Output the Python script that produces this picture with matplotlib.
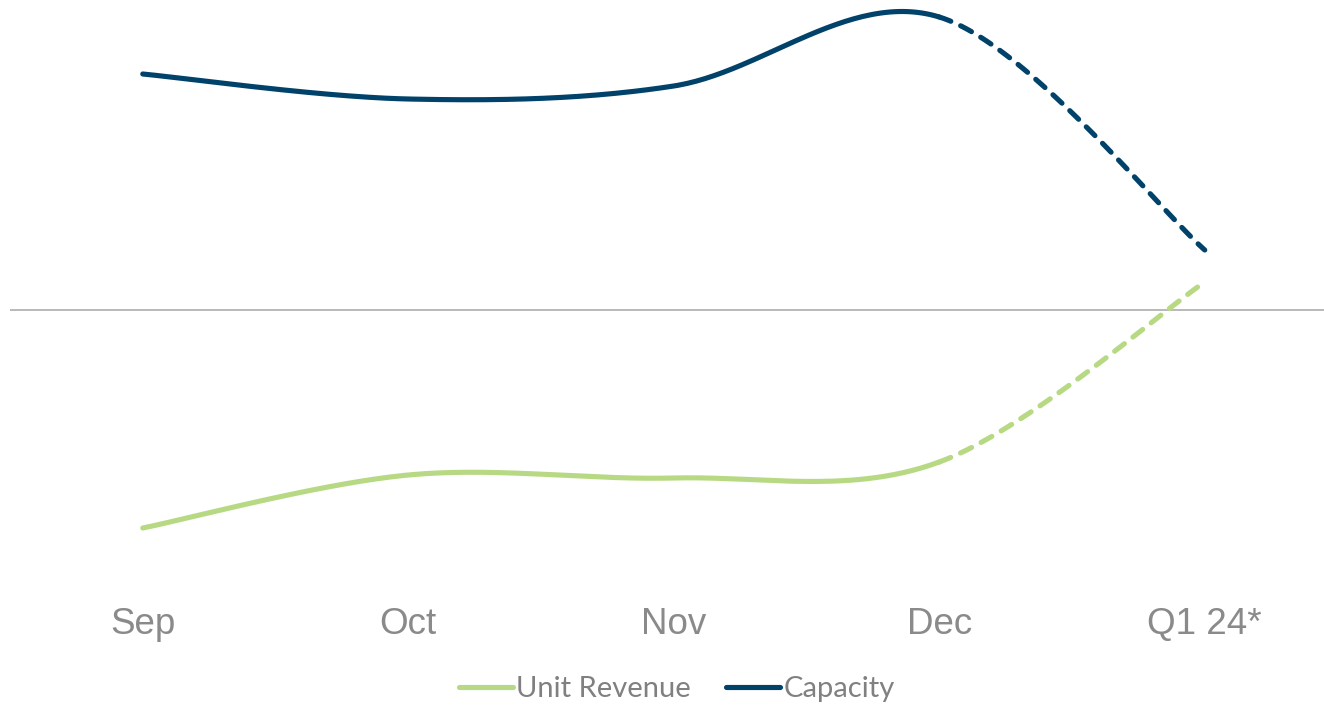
import numpy as np
import matplotlib.pyplot as plt
from matplotlib.lines import Line2D

# monthly trend, % change year over year (Q1 24 is a forecast)
periods = ['Sep', 'Oct', 'Nov', 'Dec', 'Q1 24*']
capacity = [11.8, 10.55, 11.2, 14.65, 3.0]
unit_revenue = [-10.9, -8.25, -8.4, -7.6, 1.4]

NAVY = '#01426a'
GREEN = '#b8d984'
GRAY = '#808080'


def smooth(xs, ys, n=60):
    """Bezier smoothing like a spreadsheet 'smoothed line' (Catmull-Rom tangents)."""
    xs = np.asarray(xs, float)
    ys = np.asarray(ys, float)
    px = np.concatenate([[xs[0]], xs, [xs[-1]]])
    py = np.concatenate([[ys[0]], ys, [ys[-1]]])
    segs = []
    for i in range(len(xs) - 1):
        p0 = np.array([px[i + 1], py[i + 1]])
        p3 = np.array([px[i + 2], py[i + 2]])
        p1 = p0 + (np.array([px[i + 2], py[i + 2]]) - np.array([px[i], py[i]])) / 6
        p2 = p3 - (np.array([px[i + 3], py[i + 3]]) - np.array([px[i + 1], py[i + 1]])) / 6
        t = np.linspace(0, 1, n)[:, None]
        pts = ((1 - t) ** 3 * p0 + 3 * (1 - t) ** 2 * t * p1
               + 3 * (1 - t) * t ** 2 * p2 + t ** 3 * p3)
        segs.append(pts)
    return segs


W, H = 1324, 705
fig = plt.figure(figsize=(W / 100, H / 100), dpi=100)
# plot area in pixels: left 10, right 1337.5, top 0, bottom 590
ax = fig.add_axes([10 / W, (H - 590) / H, 1327.5 / W, 590 / H])
ax.set_xlim(-0.5, 4.5)
ax.set_ylim(-14, 15.5)

x = np.arange(len(periods))
lw = 3.7
dash = (0, (2.4, 2.1))

for vals, col in [(unit_revenue, GREEN), (capacity, NAVY)]:
    segs = smooth(x, vals)
    solid = np.vstack(segs[:3])
    ax.plot(solid[:, 0], solid[:, 1], color=col, lw=lw, solid_capstyle='round', zorder=3)
    ax.plot(segs[3][:, 0], segs[3][:, 1], color=col, lw=lw, linestyle=dash,
            dash_capstyle='round', zorder=3)

ax.axhline(0, color='#a6a6a6', lw=1.1, zorder=1)

ax.set_xticks(x)
ax.set_xticklabels(periods, fontsize=26.5, color='#8a8a8a', family='Liberation Sans')
ax.tick_params(axis='x', length=0, pad=12)
ax.set_yticks([])
for s in ax.spines.values():
    s.set_visible(False)

handles = [Line2D([], [], color=GREEN, lw=lw, solid_capstyle='round'),
           Line2D([], [], color=NAVY, lw=lw, solid_capstyle='round')]
fig.legend(handles, ['Unit Revenue', 'Capacity'], loc='center',
           bbox_to_anchor=(677 / W, (H - 689) / H), ncol=2, frameon=False,
           handlelength=1.85, handletextpad=0.12, columnspacing=1.2,
           prop={'family': 'Lato', 'size': 21}, labelcolor=GRAY)

fig.savefig('out.png', dpi=100)
